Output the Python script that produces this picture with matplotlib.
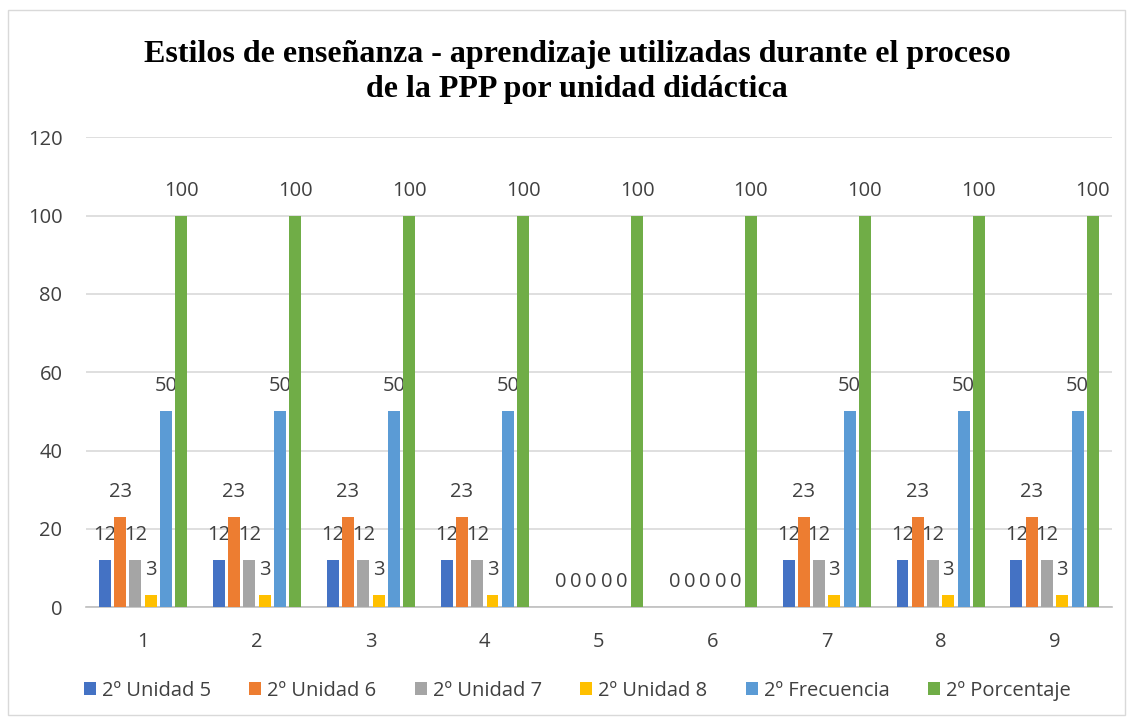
import matplotlib

matplotlib.use("Agg")
import matplotlib.pyplot as plt
import numpy as np
from matplotlib.patches import Rectangle

# ---- data -----------------------------------------------------------------
categories = ["1", "2", "3", "4", "5", "6", "7", "8", "9"]
unidad5 = [12, 12, 12, 12, 0, 0, 12, 12, 12]
unidad6 = [23, 23, 23, 23, 0, 0, 23, 23, 23]
unidad7 = [12, 12, 12, 12, 0, 0, 12, 12, 12]
unidad8 = [3, 3, 3, 3, 0, 0, 3, 3, 3]
frecuencia = [50, 50, 50, 50, 0, 0, 50, 50, 50]
porcentaje = [100, 100, 100, 100, 100, 100, 100, 100, 100]

series_names = ["2º Unidad 5", "2º Unidad 6", "2º Unidad 7",
                "2º Unidad 8", "2º Frecuencia", "2º Porcentaje"]
series_values = [unidad5, unidad6, unidad7, unidad8, frecuencia, porcentaje]
yticks = [0, 20, 40, 60, 80, 100, 120]

# Excel office palette
COLORS = ["#4472C4", "#ED7D31", "#A5A5A5", "#FFC000", "#5B9BD5", "#70AD47"]
TEXT = "#404040"
GRID = "#d9d9d9"

plt.rcParams["font.family"] = ["Open Sans", "DejaVu Sans"]

fig = plt.figure(figsize=(11.32, 7.22), dpi=100)
ax = fig.add_axes([0.076, 0.159, 0.906, 0.651])

# light frame around the whole chart
fig.patches.append(Rectangle((8 / 1132, 7 / 722), 1117 / 1132, 705 / 722,
                             transform=fig.transFigure, fill=False,
                             edgecolor="#d9d9d9", lw=1.0))

x = np.arange(len(categories))
slot = 0.134
width = 0.105
n = len(series_values)
for k, (name, vals, col) in enumerate(zip(series_names, series_values, COLORS)):
    pos = x + (k - (n - 1) / 2) * slot
    ax.bar(pos, vals, width, color=col, label=name, zorder=3)
    for px, v in zip(pos, vals):
        ax.annotate(str(v), xy=(px, v), xytext=(0, 18), textcoords="offset points",
                    ha="center", va="center", fontsize=14.5, color=TEXT)

ax.set_xlim(-0.5, len(categories) - 0.5)
ax.set_ylim(0, 120)
ax.set_yticks(yticks)
ax.set_xticks(x)
ax.set_xticklabels(categories)
ax.tick_params(axis="both", length=0, labelsize=14.5, labelcolor=TEXT)
ax.tick_params(axis="y", pad=17)
ax.tick_params(axis="x", pad=18)
ax.grid(axis="y", color=GRID, lw=1.2, zorder=0)
for s in ["top", "right", "left"]:
    ax.spines[s].set_visible(False)
ax.spines["bottom"].set_color("#bfbfbf")
ax.spines["bottom"].set_linewidth(1.2)

fig.text(0.51, 0.9, "Estilos de enseñanza - aprendizaje utilizadas durante el proceso\nde la PPP por unidad didáctica",
         ha="center", va="center", fontsize=23, fontweight="bold",
         family="Liberation Serif", linespacing=1.25, color="black")

leg = fig.legend(loc="center", bbox_to_anchor=(0.51, 0.043), ncol=6,
                 frameon=False, fontsize=14.5, handlelength=0.6, handleheight=0.6,
                 handletextpad=0.3, columnspacing=1.9)
for t in leg.get_texts():
    t.set_color(TEXT)

fig.savefig("out.png", dpi=100)
